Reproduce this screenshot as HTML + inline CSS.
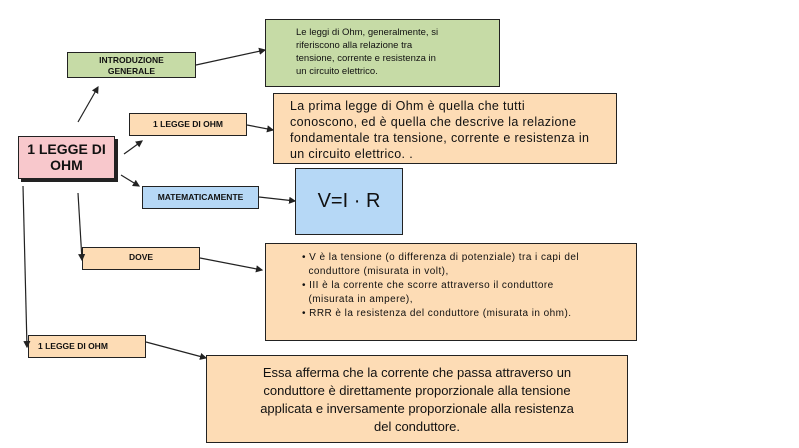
<!DOCTYPE html>
<html><head><meta charset="utf-8"><style>
body{margin:0;width:799px;height:448px;background:#fff;position:relative;overflow:hidden;font-family:"Liberation Sans",sans-serif;color:#111}
.b{position:absolute;box-sizing:border-box;border:1.5px solid #222}
.lab{font-weight:bold;font-size:8.5px;text-align:center}
.g{background:#c6dba6}.p{background:#fddcb5}.bl{background:#b6d8f6}
svg{position:absolute;left:0;top:0}
</style></head><body>
<div class="b lab g" style="left:67px;top:52px;width:129px;height:26px;padding-top:2px;line-height:11px">INTRODUZIONE<br>GENERALE</div>
<div class="b g" style="left:265px;top:19px;width:235px;height:68px;padding:6px 0 0 30px;font-size:9.5px;line-height:13px">Le leggi di Ohm, generalmente, si<br>riferiscono alla relazione tra<br>tensione, corrente e resistenza in<br>un circuito elettrico.</div>
<div class="b p" style="left:273px;top:93px;width:344px;height:71px;padding:4px 0 0 16px;font-size:12.5px;letter-spacing:0.35px;line-height:16px;white-space:nowrap">La prima legge di Ohm è quella che tutti<br>conoscono, ed è quella che descrive la relazione<br>fondamentale tra tensione, corrente e resistenza in<br>un circuito elettrico. .</div>
<div class="b bl" style="left:295px;top:168px;width:108px;height:67px;font-size:20px;text-align:center;line-height:64px">V=I · R</div>
<div class="b" style="left:21px;top:139px;width:97px;height:43px;background:#222;border:none"></div>
<div class="b" style="left:18px;top:136px;width:97px;height:43px;background:#f8c8cc;font-weight:bold;font-size:14px;text-align:center;line-height:16px;padding-top:4px">1 LEGGE DI<br>OHM</div>
<div class="b lab p" style="left:129px;top:113px;width:118px;height:23px;line-height:20px">1 LEGGE DI OHM</div>
<div class="b lab bl" style="left:142px;top:186px;width:117px;height:23px;line-height:20px">MATEMATICAMENTE</div>
<div class="b lab p" style="left:82px;top:247px;width:118px;height:23px;line-height:18px">DOVE</div>
<div class="b lab p" style="left:28px;top:335px;width:118px;height:23px;line-height:20px;text-align:left;padding-left:9px">1 LEGGE DI OHM</div>
<div class="b p" style="left:265px;top:243px;width:372px;height:98px;padding:7px 0 0 36px;font-size:10px;letter-spacing:0.45px;line-height:14px;white-space:nowrap">• V è la tensione (o differenza di potenziale) tra i capi del<br>&nbsp;&nbsp;conduttore (misurata in volt),<br>• III è la corrente che scorre attraverso il conduttore<br>&nbsp;&nbsp;(misurata in ampere),<br>• RRR è la resistenza del conduttore (misurata in ohm).</div>
<div class="b p" style="left:206px;top:355px;width:422px;height:88px;padding-top:8px;padding-right:0;text-align:center;font-size:13px;line-height:18px">Essa afferma che la corrente che passa attraverso un<br>conduttore è direttamente proporzionale alla tensione<br>applicata e inversamente proporzionale alla resistenza<br>del conduttore.</div>
<svg width="799" height="448"><defs><marker id="a" markerWidth="6" markerHeight="6" refX="5" refY="3" orient="auto"><path d="M0,0L6,3L0,6z" fill="#222"/></marker></defs>
<g stroke="#222" stroke-width="1.2" fill="none" marker-end="url(#a)">
<line x1="78" y1="122" x2="98" y2="87"/>
<line x1="124" y1="154" x2="142" y2="141"/>
<line x1="121" y1="175" x2="139" y2="186"/>
<line x1="78" y1="193" x2="82" y2="260"/>
<line x1="23" y1="186" x2="27" y2="347"/>
<line x1="196" y1="65" x2="265" y2="50"/>
<line x1="247" y1="125" x2="273" y2="130"/>
<line x1="259" y1="197" x2="295" y2="201"/>
<line x1="200" y1="258" x2="262" y2="270"/>
<line x1="146" y1="342" x2="206" y2="358"/>
</g></svg>
</body></html>
